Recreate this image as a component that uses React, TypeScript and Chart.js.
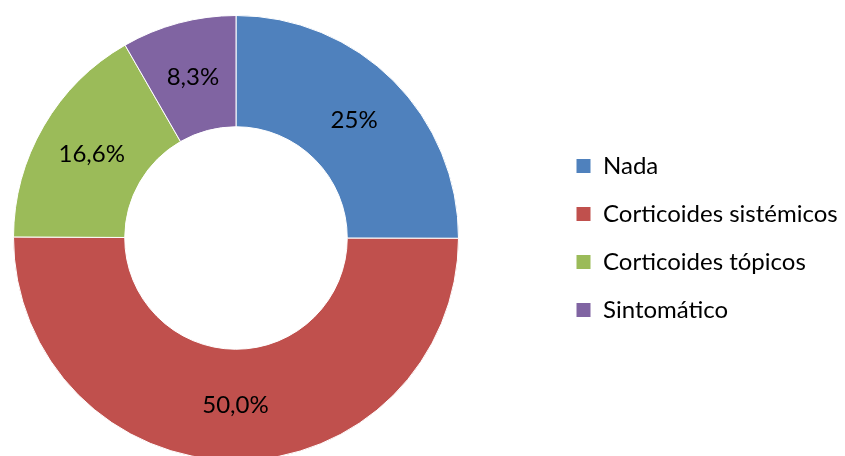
import React, { useEffect, useRef } from "react";
import { Chart, registerables } from "chart.js";

Chart.register(...registerables);

const categories = ["Nada", "Corticoides sistémicos", "Corticoides tópicos", "Sintomático"];
const values = [25, 50.0, 16.6, 8.3];
const valueLabels = ["25%", "50,0%", "16,6%", "8,3%"];
const colors = ["#4F81BD", "#C0504D", "#9BBB59", "#8064A2"];

const FONT_FAMILY = "Lato, 'Liberation Sans', sans-serif";
const FONT_SIZE = 24;
const BOX = 15;
const LEG_PAD = 24;
const LEGEND_BOX_X = 576;

const sliceLabels = {
  id: "sliceLabels",
  afterDatasetsDraw(chart: any) {
    const ctx = chart.ctx;
    const meta = chart.getDatasetMeta(0);
    ctx.save();
    ctx.font = `${FONT_SIZE}px ${FONT_FAMILY}`;
    ctx.fillStyle = "#000000";
    ctx.textAlign = "center";
    ctx.textBaseline = "middle";
    meta.data.forEach((arc: any, i: number) => {
      const p = arc.getCenterPoint();
      ctx.fillText(valueLabels[i], p.x, p.y);
    });
    ctx.restore();
  },
};

const legendShift = {
  id: "legendShift",
  afterLayout(chart: any) {
    const lg = chart.legend;
    if (!lg) return;
    const dx = LEGEND_BOX_X - LEG_PAD - lg.left;
    lg.left += dx;
    lg.right += dx;
  },
};

export default function App() {
  const ref = useRef<HTMLCanvasElement | null>(null);
  useEffect(() => {
    const canvas = ref.current!;
    const mctx = canvas.getContext("2d")!;
    mctx.font = `${FONT_SIZE}px ${FONT_FAMILY}`;
    const maxText = Math.max(...categories.map((c) => mctx.measureText(c).width));
    const legendW = LEG_PAD + BOX + FONT_SIZE / 2 + maxText + 10;
    const chartLeft = 13;
    const chartRight = 459;
    const padRight = 845 - chartRight - legendW;

    const chart = new Chart(canvas, {
      type: "doughnut",
      data: {
        labels: categories,
        datasets: [
          {
            data: values,
            backgroundColor: colors,
            borderColor: "#ffffff",
            borderWidth: 1,
          },
        ],
      },
      options: {
        responsive: false,
        animation: false,
        cutout: "50%",
        layout: { padding: { left: chartLeft, right: padRight, top: 15, bottom: 15 } },
        plugins: {
          legend: {
            position: "right",
            labels: {
              boxWidth: BOX,
              boxHeight: BOX,
              padding: LEG_PAD,
              color: "#000000",
              font: { family: FONT_FAMILY, size: FONT_SIZE },
            },
          },
          tooltip: { enabled: false },
        },
      },
      plugins: [sliceLabels, legendShift],
    });
    return () => chart.destroy();
  }, []);

  return (
    <div style={{ position: "fixed", left: 0, top: 0, width: 845, height: 456, overflow: "hidden", background: "#fff" }}>
      <canvas ref={ref} width={845} height={476} style={{ display: "block", width: 845, height: 476 }} />
    </div>
  );
}
